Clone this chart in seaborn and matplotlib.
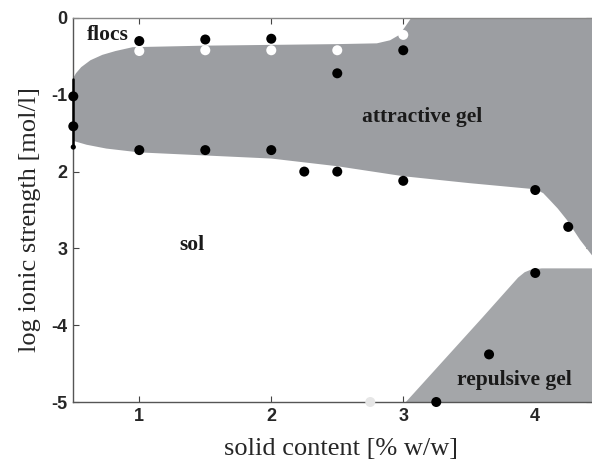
import matplotlib
matplotlib.use("Agg")
import matplotlib.pyplot as plt
import seaborn as sns
import pandas as pd

# ---- data ----
# attractive gel region: upper boundary (left->right) and lower boundary (right->left)
gel_top_x = [0.5, 0.52, 0.56, 0.63, 0.72, 0.82, 0.95, 1.5, 2.0, 2.5, 2.8, 2.9, 2.97, 3.02, 3.06, 4.5]
gel_top_y = [-0.78, -0.72, -0.64, -0.55, -0.48, -0.43, -0.38, -0.36, -0.35, -0.34, -0.33, -0.29, -0.22, -0.1, 0.0, 0.0]
gel_bot_x = [4.5, 4.43, 4.34, 4.24, 4.17, 4.11, 4.06, 4.0, 3.5, 3.0, 2.5, 2.0, 1.5, 1.0, 0.75, 0.6, 0.5]
gel_bot_y = [-3.2, -3.09, -2.89, -2.63, -2.48, -2.37, -2.28, -2.23, -2.15, -2.06, -1.93, -1.83, -1.79, -1.75, -1.7, -1.65, -1.6]

# repulsive gel region
rep_x = [3.02, 3.6, 3.87, 3.92, 3.97, 4.05, 4.5, 4.5]
rep_y = [-5.0, -3.9, -3.38, -3.31, -3.275, -3.26, -3.26, -5.0]

# measured points
black_x = [1.0, 1.5, 2.0, 2.5, 3.0, 0.5, 0.5, 1.0, 1.5, 2.0, 2.25, 2.5, 3.0, 4.0, 4.25, 4.0, 3.65, 3.25]
black_y = [-0.30, -0.28, -0.27, -0.72, -0.42, -1.02, -1.41, -1.72, -1.72, -1.72, -2.0, -2.0, -2.12, -2.24, -2.72, -3.32, -4.38, -5.0]
white_x = [1.0, 1.5, 2.0, 2.5, 3.0]
white_y = [-0.43, -0.42, -0.42, -0.42, -0.22]
light_x = [2.75]
light_y = [-5.0]
small_x = [0.5]
small_y = [-1.68]
bar_x = [0.5, 0.5]
bar_y = [-0.8, -1.68]

xticks = [1, 2, 3, 4]
xticklabels = ["1", "2", "3", "4"]
yticks = [0, -1, -2, -3, -4, -5]
yticklabels = ["0", "-1", "2", "3", "-4", "-5"]

region_labels = ["flocs", "attractive gel", "sol", "repulsive gel"]
region_lx = [0.76, 3.14, 1.40, 3.84]
region_ly = [-0.22, -1.29, -2.96, -4.71]

# ---- plotting ----
sns.set_style("ticks")
plt.rcParams["font.family"] = ["Liberation Serif", "DejaVu Serif"]

fig = plt.figure(figsize=(5.92, 4.61), dpi=100)
ax = fig.add_axes([73.3 / 592, 59 / 461, 1 - 73.3 / 592, (402 - 18) / 461])

gray_attr = "#9c9ea2"
gray_rep = "#a4a6a9"

poly_x = gel_top_x + gel_bot_x
poly_y = gel_top_y + gel_bot_y
ax.fill(poly_x, poly_y, color=gray_attr, lw=0, zorder=1)
ax.fill(rep_x, rep_y, color=gray_rep, lw=0, zorder=1)

ax.plot(bar_x, bar_y, color="black", lw=1.8, zorder=4, clip_on=False)

df_b = pd.DataFrame({"x": black_x, "y": black_y})
df_w = pd.DataFrame({"x": white_x, "y": white_y})
df_l = pd.DataFrame({"x": light_x, "y": light_y})
df_s = pd.DataFrame({"x": small_x, "y": small_y})
sns.scatterplot(data=df_b, x="x", y="y", ax=ax, color="black", s=52, edgecolor="none", zorder=5, clip_on=False)
sns.scatterplot(data=df_w, x="x", y="y", ax=ax, color="white", s=52, edgecolor="none", zorder=5, clip_on=False)
sns.scatterplot(data=df_l, x="x", y="y", ax=ax, color="#e6e6e6", s=52, edgecolor="none", zorder=5, clip_on=False)
sns.scatterplot(data=df_s, x="x", y="y", ax=ax, color="black", s=14, edgecolor="none", zorder=5, clip_on=False)

for t, lx, ly in zip(region_labels, region_lx, region_ly):
    ax.text(lx, ly, t, ha="center", va="center", fontsize=15.5, fontweight="bold",
            color="#1a1a1a", family=["Liberation Serif"], zorder=6)

ax.set_xlim(0.5, 4.43)
ax.set_ylim(-5, 0)
ax.set_xticks(xticks)
ax.set_xticklabels(xticklabels)
ax.set_yticks(yticks)
ax.set_yticklabels(yticklabels)
for lab in ax.get_xticklabels() + ax.get_yticklabels():
    lab.set_family(["Liberation Sans"])
    lab.set_fontweight("bold")
    lab.set_fontsize(13)
ax.tick_params(direction="in", length=4, width=0.8, color="#444444", right=True, pad=4)
ax.tick_params(axis="x", top=True)

for side in ["left", "bottom", "top"]:
    ax.spines[side].set_color("#555555")
    ax.spines[side].set_linewidth(1.0)
ax.spines["top"].set_color("#888888")
ax.spines["right"].set_visible(False)

ax.set_xlabel("solid content [% w/w]", fontsize=19, labelpad=10, x=0.516)
ax.set_ylabel("log ionic strength [mol/l]", fontsize=19, labelpad=8, y=0.474)
ax.set_facecolor("white")

fig.savefig("out.png", dpi=100)
